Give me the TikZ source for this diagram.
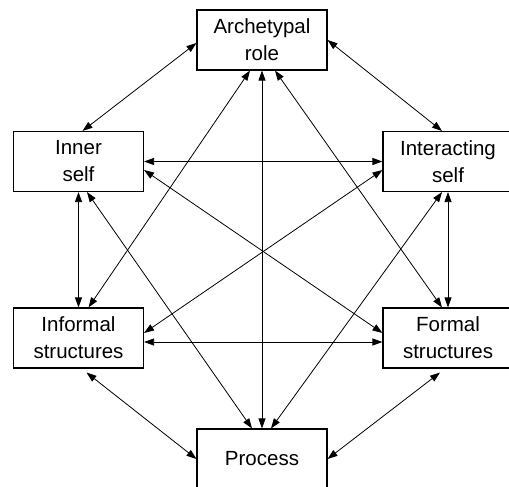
\documentclass[tikz,border=0pt]{standalone}
\usepackage{fontspec}
\setmainfont{Liberation Sans}
\usetikzlibrary{arrows.meta}
\tikzset{
  box/.style={draw, line width=1.1pt, minimum width=130pt, minimum height=60pt, align=center, inner sep=0pt,
    font=\fontsize{20.5}{27}\selectfont},
  link/.style={{Triangle[length=10pt,width=7pt]}-{Triangle[length=10pt,width=7pt]}, line width=0.8pt}
}
\begin{document}
\begin{tikzpicture}[x=1pt,y=-1pt]
\useasboundingbox (0,0) rectangle (509,487);
\node[box] (arch) at (262,40) {Archetypal\\role};
\node[box] (inner) at (78.5,161.5) {Inner\\self};
\node[box] (inter) at (448,161.5) {Interacting\\self};
\node[box] (infl) at (78.5,338) {Informal\\structures};
\node[box] (form) at (448,338) {Formal\\structures};
\node[box] (proc) at (262,459) {Process};
\draw[link] ([yshift=-3pt]arch.west) -- ([xshift=4pt]inner.north);
\draw[link] (arch.east) -- ([xshift=-6pt]inter.north);
\draw[link] (arch.south) -- (proc.north);
\draw[link] ([xshift=-12pt]arch.south) -- ([xshift=10pt]infl.north);
\draw[link] ([xshift=13pt]arch.south) -- ([xshift=-6pt]form.north);
\draw[link] (inner.east) -- (inter.west);
\draw[link] (inner.south) -- (infl.north);
\draw[link] ([yshift=-8.5pt]inner.east) -- ([yshift=5pt]form.west);
\draw[link] ([xshift=8.5pt]inner.south) -- ([xshift=-10pt]proc.north);
\draw[link] ([yshift=-8.5pt]inter.west) -- ([yshift=5pt]infl.east);
\draw[link] (inter.south) -- (form.north);
\draw[link] ([xshift=-6pt]inter.south) -- ([xshift=9pt]proc.north);
\draw[link] ([yshift=-4pt]infl.east) -- ([yshift=-4pt]form.west);
\draw[link] ([xshift=8pt,yshift=-4pt]infl.south) -- (proc.west);
\draw[link] ([xshift=-8pt,yshift=-4pt]form.south) -- (proc.east);
\end{tikzpicture}
\end{document}
